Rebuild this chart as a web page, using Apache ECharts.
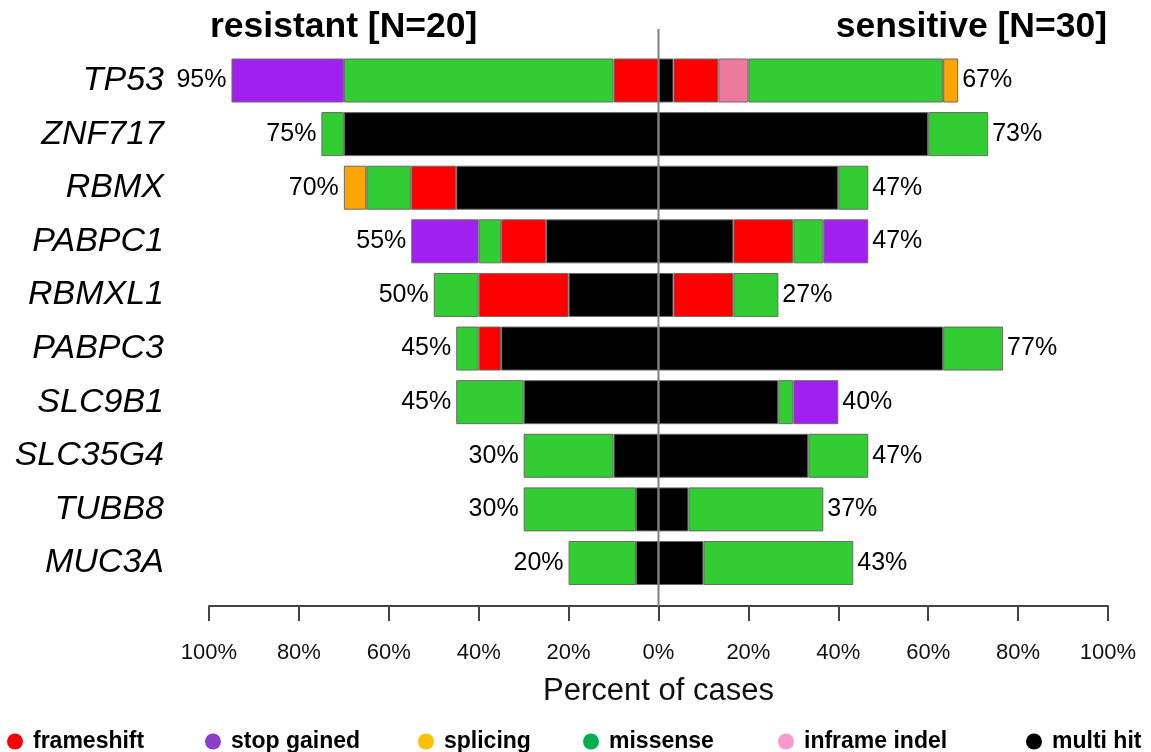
<!DOCTYPE html>
<html>
<head>
<meta charset="utf-8">
<script src="https://cdn.jsdelivr.net/npm/echarts@6/dist/echarts.min.js"></script>
<style>
html,body{margin:0;padding:0;background:#fff;}
#chart{width:1151px;height:752px;}
</style>
</head>
<body>
<div id="chart"></div>
<script>
// ---- data ----
const genes = ['TP53','ZNF717','RBMX','PABPC1','RBMXL1','PABPC3','SLC9B1','SLC35G4','TUBB8','MUC3A'];
const nResistant = 20;
const nSensitive = 30;
// mutation types, listed from the centre line outward
const mutationTypes = ['multi hit','frameshift','inframe indel','missense','splicing','stop gained'];
// number of cases per gene (order of genes above)
const resMultiHit     = [0,14,9,5,4,7,6,2,1,1];
const resFrameshift   = [2,0,2,2,4,1,0,0,0,0];
const resInframe      = [0,0,0,0,0,0,0,0,0,0];
const resMissense     = [12,1,2,1,2,1,3,4,5,3];
const resSplicing     = [0,0,1,0,0,0,0,0,0,0];
const resStopGained   = [5,0,0,3,0,0,0,0,0,0];
const senMultiHit     = [1,18,12,5,1,19,8,10,2,3];
const senFrameshift   = [3,0,0,4,4,0,0,0,0,0];
const senInframe      = [2,0,0,0,0,0,0,0,0,0];
const senMissense     = [13,4,2,2,3,4,1,4,9,10];
const senSplicing     = [1,0,0,0,0,0,0,0,0,0];
const senStopGained   = [0,0,0,3,0,0,3,0,0,0];
const xTicks = [-100,-80,-60,-40,-20,0,20,40,60,80,100];

// ---- styles ----
const barColors = {
  'multi hit':'#000000','frameshift':'#FF0000','inframe indel':'#EE799F',
  'missense':'#32CD32','splicing':'#FFA500','stop gained':'#A020F0'
};
const legendColors = {
  'frameshift':'#FF0000','stop gained':'#8B3FC6','splicing':'#FFC000',
  'missense':'#00B050','inframe indel':'#FF99CC','multi hit':'#000000'
};
const legendOrder = ['frameshift','stop gained','splicing','missense','inframe indel','multi hit'];
const legendLeft = [7,205,418,583,778,1026];

const resData = {
  'multi hit':resMultiHit,'frameshift':resFrameshift,'inframe indel':resInframe,
  'missense':resMissense,'splicing':resSplicing,'stop gained':resStopGained
};
const senData = {
  'multi hit':senMultiHit,'frameshift':senFrameshift,'inframe indel':senInframe,
  'missense':senMissense,'splicing':senSplicing,'stop gained':senStopGained
};

const GRID_L = 209, GRID_R = 43;
const series = [];
mutationTypes.forEach(t => {
  [['res', resData[t], -100/nResistant], ['sen', senData[t], 100/nSensitive]].forEach(([side, arr, f]) => {
    series.push({
      type:'bar', name:t, stack:'all', xAxisIndex:0, yAxisIndex:0,
      barWidth:44,
      itemStyle:{color:barColors[t], borderColor:'#6a6a6a', borderWidth:1},
      emphasis:{disabled:true},
      data: arr.map(v => v ? v*f : '-')
    });
  });
});
const resTotal = genes.map((g,i) => mutationTypes.reduce((s,t)=>s+resData[t][i],0)*100/nResistant);
const senTotal = genes.map((g,i) => mutationTypes.reduce((s,t)=>s+senData[t][i],0)*100/nSensitive);
const totalLabel = {show:true, fontSize:25, color:'#000', opacity:1, fontFamily:'Liberation Sans, Arial, sans-serif',
  formatter: p => Math.round(Math.abs(p.value[0])) + '%'};
series.push({
  type:'scatter', xAxisIndex:0, yAxisIndex:0, symbolSize:0, silent:true,
  itemStyle:{opacity:1},
  label:Object.assign({position:'left', distance:5}, totalLabel),
  data: resTotal.map((v,i)=>[-v,i])
});
series.push({
  type:'scatter', xAxisIndex:0, yAxisIndex:0, symbolSize:0, silent:true,
  itemStyle:{opacity:1},
  label:Object.assign({position:'right', distance:4}, totalLabel),
  data: senTotal.map((v,i)=>[v,i])
});
// centre line (second grid spans from the top to the axis)
series.push({
  type:'line', xAxisIndex:1, yAxisIndex:1, symbol:'none', silent:true, z:10,
  lineStyle:{color:'#808080', width:2},
  data:[[0,0],[0,1]]
});

const legends = legendOrder.map((name,i)=>({
  left:legendLeft[i], top:730, padding:0, itemGap:0,
  icon:'circle', itemWidth:16, itemHeight:16, selectedMode:false,
  textStyle:{fontSize:23, fontWeight:'bold', color:'#000', padding:[0,0,0,5],
    fontFamily:'Liberation Sans, Arial, sans-serif'},
  data:[{name:name, itemStyle:{color:legendColors[name], borderWidth:0}}]
}));

const option = {
  animation:false,
  backgroundColor:'#fff',
  title:[
    {text:'resistant [N=20]', left:210, top:9, padding:0,
     textStyle:{fontSize:35.5, fontWeight:'bold', color:'#000', fontFamily:'Liberation Sans, Arial, sans-serif'}},
    {text:'sensitive [N=30]', right:44, top:9, padding:0,
     textStyle:{fontSize:35.5, fontWeight:'bold', color:'#000', fontFamily:'Liberation Sans, Arial, sans-serif'}}
  ],
  legend:legends,
  grid:[
    {left:GRID_L, right:GRID_R, top:53.7, bottom:752-589.8},
    {left:GRID_L, right:GRID_R, top:29, bottom:752-606}
  ],
  xAxis:[
    {type:'value', gridIndex:0, min:xTicks[0], max:xTicks[xTicks.length-1], interval:20, show:false},
    {type:'value', gridIndex:1, min:xTicks[0], max:xTicks[xTicks.length-1], interval:20,
     position:'bottom',
     name:'Percent of cases', nameLocation:'middle', nameGap:70,
     nameTextStyle:{fontSize:31, color:'#111', fontFamily:'Liberation Sans, Arial, sans-serif'},
     axisLine:{show:true, lineStyle:{color:'#444', width:2}},
     axisTick:{show:true, length:15, inside:false, lineStyle:{color:'#444', width:2}},
     splitLine:{show:false},
     axisLabel:{margin:36, fontSize:22, color:'#111', fontFamily:'Liberation Sans, Arial, sans-serif',
       formatter: v => Math.abs(v) + '%'}}
  ],
  yAxis:[
    {type:'category', gridIndex:0, data:genes, inverse:true,
     axisLine:{show:false}, axisTick:{show:false}, splitLine:{show:false},
     axisLabel:{margin:45, fontSize:34, fontStyle:'italic', color:'#000',
       fontFamily:'Liberation Sans, Arial, sans-serif'}},
    {type:'value', gridIndex:1, min:0, max:1, show:false}
  ],
  series:series
};
const chart = echarts.init(document.getElementById('chart'), null, {renderer:'canvas'});
chart.setOption(option);
</script>
</body>
</html>
